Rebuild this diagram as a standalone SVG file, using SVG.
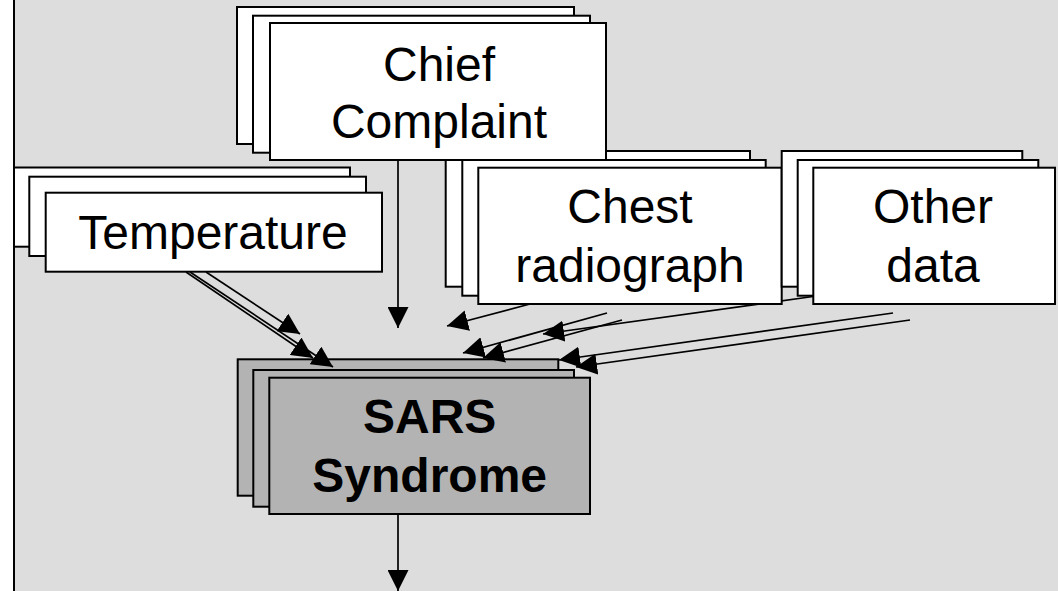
<svg xmlns="http://www.w3.org/2000/svg" width="1058" height="591" viewBox="0 0 1058 591">
<style>
.bg{fill:#dddddd}
.box{fill:#ffffff;stroke:#000000;stroke-width:2}
.sbox{fill:#b3b3b3;stroke:#000000;stroke-width:2}
.lbl{font-family:"Liberation Sans",Arial,Helvetica,sans-serif;font-size:48px;fill:#000000;text-anchor:middle}
.bold{font-weight:bold}
.conn{stroke:#000000;stroke-width:1.7;fill:none;marker-end:url(#ah)}
</style>
<defs>
<marker id="ah" markerUnits="userSpaceOnUse" markerWidth="21" markerHeight="21" viewBox="0 0 21 21" refX="21" refY="10.5" orient="auto">
<path d="M0,0 L21,10.5 L0,21 z" fill="#000000"/>
</marker>
</defs>
<rect x="0" y="0" width="1058" height="591" fill="#ffffff"/>
<rect class="bg" x="14" y="0" width="1044" height="591"/>
<line x1="14" y1="0" x2="14" y2="591" stroke="#000000" stroke-width="2"/>

<g id="node-sars">
<rect class="sbox" x="237.7" y="359.3" width="320.6" height="136.4"/>
<rect class="sbox" x="253.3" y="370" width="320.7" height="136.7"/>
<rect class="sbox" x="269.3" y="377.7" width="320.7" height="136.3"/>
<text class="lbl bold" x="429.7" y="433">SARS</text>
<text class="lbl bold" x="429.7" y="491.5">Syndrome</text>
</g>

<g id="connectors">
<line class="conn" x1="206" y1="272" x2="300" y2="334"/>
<line class="conn" x1="186" y1="272" x2="313" y2="358"/>
<line class="conn" x1="190" y1="272" x2="333" y2="367"/>
<line class="conn" x1="398" y1="160" x2="398" y2="328"/>
<line class="conn" x1="530" y1="304" x2="447" y2="326"/>
<line class="conn" x1="607" y1="313" x2="463" y2="353"/>
<line class="conn" x1="622" y1="320" x2="483" y2="358"/>
<line class="conn" x1="813" y1="296.5" x2="543" y2="334"/>
<line class="conn" x1="893" y1="313" x2="559" y2="360"/>
<line class="conn" x1="910" y1="320" x2="576" y2="367"/>
<line class="conn" x1="398" y1="514" x2="398" y2="591"/>
</g>

<g id="node-temperature">
<rect class="box" x="14" y="167.5" width="336" height="79.2"/>
<rect class="box" x="29.3" y="176.7" width="336.7" height="79.3"/>
<rect class="box" x="45.7" y="192.7" width="336.3" height="79"/>
<text class="lbl" x="213" y="249">Temperature</text>
</g>

<g id="node-chest">
<rect class="box" x="445.7" y="151" width="304.3" height="135.7"/>
<rect class="box" x="462.3" y="160" width="303.4" height="135.7"/>
<rect class="box" x="478.3" y="167.7" width="303.4" height="136.3"/>
<text class="lbl" x="630" y="223">Chest</text>
<text class="lbl" x="630" y="281.5">radiograph</text>
</g>

<g id="node-other">
<rect class="box" x="781.7" y="151" width="240.6" height="135.7"/>
<rect class="box" x="797.7" y="160" width="240.6" height="135.7"/>
<rect class="box" x="813.3" y="167.7" width="241.7" height="136.3"/>
<text class="lbl" x="933" y="223">Other</text>
<text class="lbl" x="933" y="281.5">data</text>
</g>

<g id="node-chief">
<rect class="box" x="237" y="7" width="337" height="137"/>
<rect class="box" x="253" y="15.7" width="337" height="137"/>
<rect class="box" x="270" y="23" width="336" height="137"/>
<text class="lbl" x="439" y="81">Chief</text>
<text class="lbl" x="439" y="138">Complaint</text>
</g>
</svg>
